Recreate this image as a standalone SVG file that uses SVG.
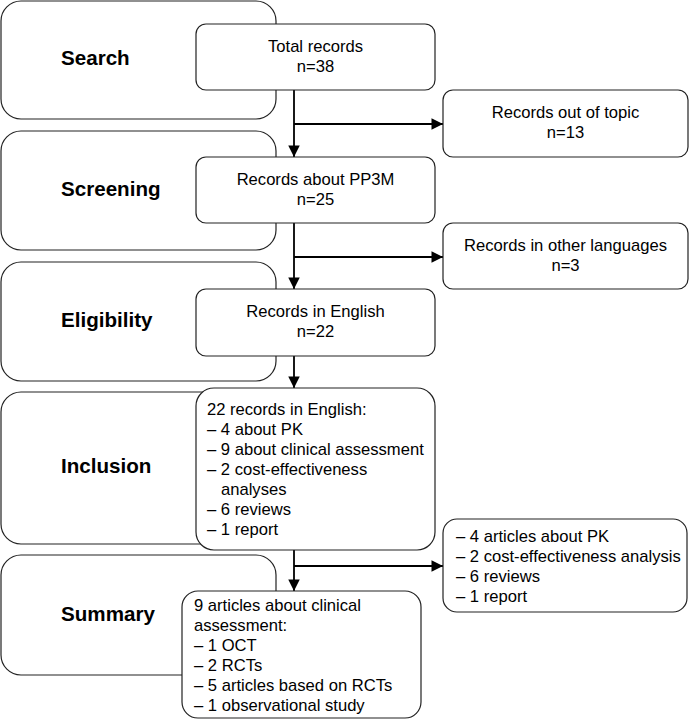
<svg xmlns="http://www.w3.org/2000/svg" width="697" height="720" viewBox="0 0 697 720">
<style>
.stage{fill:#fff;stroke:#222;stroke-width:1.2}
.box{fill:#fff;stroke:#222;stroke-width:1.2}
.lbl{font-family:"Liberation Sans",Arial,sans-serif;font-size:20.6px;font-weight:bold;fill:#000}
.t{font-family:"Liberation Sans",Arial,sans-serif;font-size:16.6px;fill:#000}
.c{text-anchor:middle}
.conn{stroke:#000;stroke-width:1.8;fill:none}
</style>
<defs>
<marker id="ah" viewBox="0 0 10 10" refX="10" refY="5" markerWidth="6.4" markerHeight="6.4" orient="auto" markerUnits="strokeWidth">
<path d="M0,0 L10,5 L0,10 Z" fill="#000"/>
</marker>
</defs>
<rect width="697" height="720" fill="#fff"/>
<g id="stage-search"><rect class="stage" x="1" y="1" width="275" height="118" rx="20"/><text class="lbl" x="61" y="65">Search</text></g>
<g id="stage-screening"><rect class="stage" x="1" y="131" width="275" height="119" rx="20"/><text class="lbl" x="61" y="196">Screening</text></g>
<g id="stage-eligibility"><rect class="stage" x="1" y="262" width="275" height="119" rx="20"/><text class="lbl" x="61" y="327">Eligibility</text></g>
<g id="stage-inclusion"><rect class="stage" x="1" y="392" width="275" height="152" rx="20"/><text class="lbl" x="61" y="473">Inclusion</text></g>
<g id="stage-summary"><rect class="stage" x="1" y="555" width="275" height="120" rx="20"/><text class="lbl" x="61" y="621">Summary</text></g>
<g id="connectors">
<line class="conn" x1="294" y1="90" x2="294" y2="157" marker-end="url(#ah)"/>
<line class="conn" x1="294" y1="124" x2="443" y2="124" marker-end="url(#ah)"/>
<line class="conn" x1="294" y1="223" x2="294" y2="289" marker-end="url(#ah)"/>
<line class="conn" x1="294" y1="257" x2="443" y2="257" marker-end="url(#ah)"/>
<line class="conn" x1="294" y1="356" x2="294" y2="388" marker-end="url(#ah)"/>
<line class="conn" x1="294" y1="550" x2="294" y2="591" marker-end="url(#ah)"/>
<line class="conn" x1="294" y1="566" x2="443" y2="566" marker-end="url(#ah)"/>
</g>
<g id="total"><rect class="box" x="196" y="24" width="239" height="66" rx="10"/><text class="t c" x="315.5" y="52">Total records</text><text class="t c" x="315.5" y="72">n=38</text></g>
<g id="out-of-topic"><rect class="box" x="443" y="90" width="245" height="67" rx="10"/><text class="t c" x="565.5" y="118">Records out of topic</text><text class="t c" x="565.5" y="138">n=13</text></g>
<g id="pp3m"><rect class="box" x="196" y="157" width="239" height="66" rx="10"/><text class="t c" x="315.5" y="185">Records about PP3M</text><text class="t c" x="315.5" y="205">n=25</text></g>
<g id="other-lang"><rect class="box" x="443" y="223" width="245" height="66" rx="10"/><text class="t c" x="565.5" y="251">Records in other languages</text><text class="t c" x="565.5" y="271">n=3</text></g>
<g id="english"><rect class="box" x="196" y="289" width="239" height="67" rx="10"/><text class="t c" x="315.5" y="317">Records in English</text><text class="t c" x="315.5" y="337">n=22</text></g>
<g id="included"><rect class="box" x="196" y="388" width="239" height="162" rx="18"/>
<text class="t" x="207" y="415">22 records in English:</text>
<text class="t" x="207" y="435">– 4 about PK</text>
<text class="t" x="207" y="455">– 9 about clinical assessment</text>
<text class="t" x="207" y="475">– 2 cost-effectiveness</text>
<text class="t" x="221" y="495">analyses</text>
<text class="t" x="207" y="515">– 6 reviews</text>
<text class="t" x="207" y="535">– 1 report</text>
</g>
<g id="excluded"><rect class="box" x="443" y="519" width="244" height="93" rx="14"/>
<text class="t" x="456" y="542">– 4 articles about PK</text>
<text class="t" x="456" y="562">– 2 cost-effectiveness analysis</text>
<text class="t" x="456" y="582">– 6 reviews</text>
<text class="t" x="456" y="602">– 1 report</text>
</g>
<g id="clinical"><rect class="box" x="182" y="591" width="239" height="127" rx="16"/>
<text class="t" x="194" y="611">9 articles about clinical</text>
<text class="t" x="194" y="631">assessment:</text>
<text class="t" x="194" y="651">– 1 OCT</text>
<text class="t" x="194" y="671">– 2 RCTs</text>
<text class="t" x="194" y="691">– 5 articles based on RCTs</text>
<text class="t" x="194" y="711">– 1 observational study</text>
</g>
</svg>
